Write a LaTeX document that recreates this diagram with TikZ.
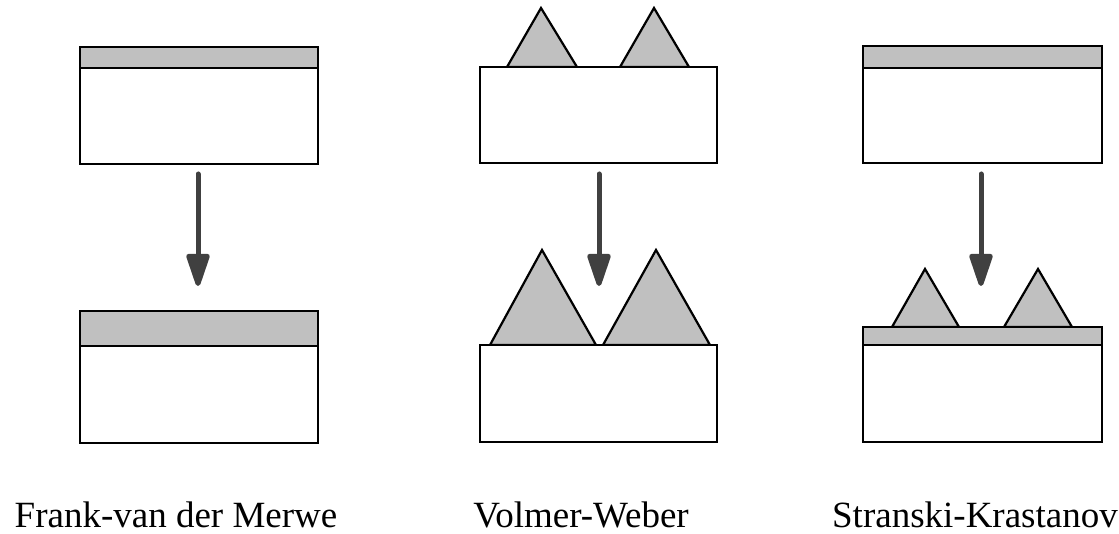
\documentclass[tikz,border=0pt]{standalone}
\usepackage{fontspec}
\setmainfont{Liberation Serif}
\usetikzlibrary{arrows.meta}
\definecolor{layer}{HTML}{C0C0C0}
\definecolor{arr}{HTML}{404040}
\tikzset{
  part/.style={draw=black, line width=2.2pt, line join=miter},
  film/.style={part, fill=layer},
  sub/.style={part, fill=white},
  growth/.style={draw=arr, line width=5pt, line cap=round,
    -{Triangle[width=24pt,length=38pt,round]}},
  label/.style={font=\fontsize{37}{40}\selectfont, anchor=base, inner sep=0pt}
}
\begin{document}
\begin{tikzpicture}[x=1pt,y=-1pt]
\useasboundingbox (0,0) rectangle (1119,534);
% Column 1: Frank-van der Merwe
\draw[sub] (80,47) rectangle (318,164);
\draw[film] (80,47) rectangle (318,68);
\draw[sub] (80,311) rectangle (318,443);
\draw[film] (80,311) rectangle (318,346);
\coordinate (a1) at (198,174);
\coordinate (b1) at (198,286);
\draw[growth] (a1) -- (b1);
\node[label] (l1) at (176,527) {Frank-van der Merwe};
% Column 2: Volmer-Weber
\draw[film] (507,67) -- (541,8) -- (577,67) -- cycle;
\draw[film] (620,67) -- (654,8) -- (689,67) -- cycle;
\draw[sub] (480,67) rectangle (717,163);
\draw[film] (490,345) -- (542,250) -- (596,345) -- cycle;
\draw[film] (603,345) -- (656,250) -- (710,345) -- cycle;
\draw[sub] (480,345) rectangle (717,442);
\coordinate (a2) at (599,174);
\coordinate (b2) at (599,286);
\draw[growth] (a2) -- (b2);
\node[label] (l2) at (581,527) {Volmer-Weber};
% Column 3: Stranski-Krastanov
\draw[sub] (863,46) rectangle (1102,163);
\draw[film] (863,46) rectangle (1102,68);
\draw[film] (892,327) -- (925,269) -- (959,327) -- cycle;
\draw[film] (1004,327) -- (1038,269) -- (1072,327) -- cycle;
\draw[sub] (863,327) rectangle (1102,442);
\draw[film] (863,327) rectangle (1102,345);
\coordinate (a3) at (981,174);
\coordinate (b3) at (981,286);
\draw[growth] (a3) -- (b3);
\node[label] (l3) at (975,527) {Stranski-Krastanov};
\end{tikzpicture}
\end{document}
